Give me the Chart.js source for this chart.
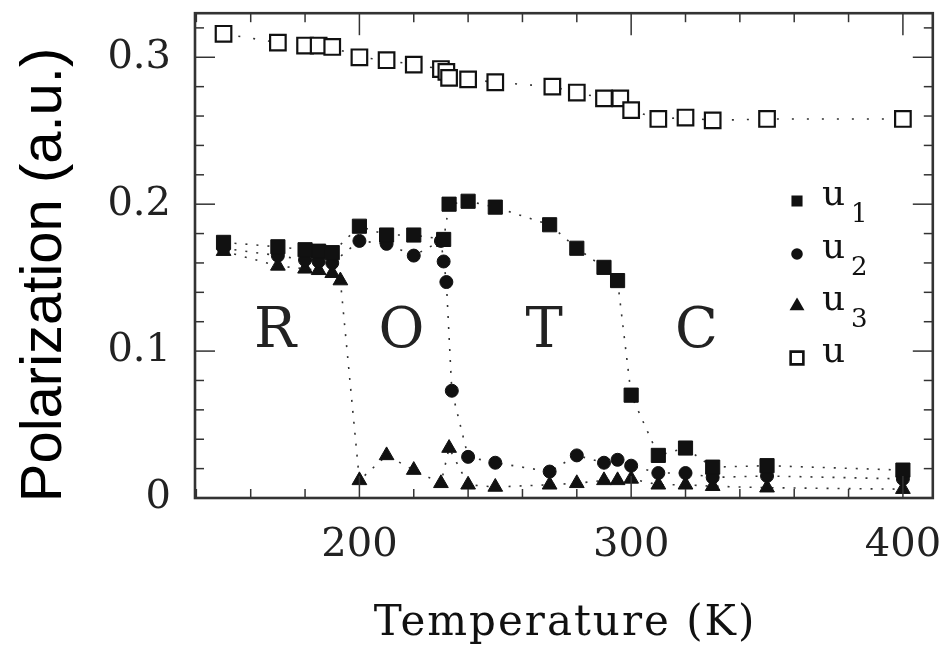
<!DOCTYPE html>
<html>
<head>
<meta charset="utf-8">
<script src="https://cdn.jsdelivr.net/npm/chart.js@4.4.1/dist/chart.umd.min.js"></script>
<style>
  html, body { margin: 0; padding: 0; background: #fff; }
  #wrap { width: 946px; height: 646px; }
</style>
</head>
<body>
<div id="wrap"><canvas id="polar-chart" width="946" height="646"></canvas></div>
<script>
// values: temperature (K) and polarization (a.u.)
var tempU  = [150, 170, 180, 185, 190, 200, 210, 220, 230, 232, 233, 240, 250, 271, 280, 290, 296, 300, 310, 320, 330, 350, 400];
var valU   = [0.316, 0.310, 0.308, 0.308, 0.307, 0.300, 0.298, 0.295, 0.292, 0.290, 0.286, 0.285, 0.283, 0.280, 0.276, 0.272, 0.272, 0.264, 0.258, 0.259, 0.257, 0.258, 0.258];

var tempU1 = [150, 170, 180, 185, 190, 200, 210, 220, 231, 233, 240, 250, 270, 280, 290, 295, 300, 310, 320, 330, 350, 400];
var valU1  = [0.174, 0.171, 0.169, 0.168, 0.167, 0.185, 0.179, 0.179, 0.176, 0.200, 0.202, 0.198, 0.186, 0.170, 0.157, 0.148, 0.070, 0.029, 0.034, 0.021, 0.022, 0.019];

var tempU2 = [150, 170, 180, 185, 190, 200, 210, 220, 230, 231, 232, 234, 240, 250, 270, 280, 290, 295, 300, 310, 320, 330, 350, 400];
var valU2  = [0.170, 0.165, 0.162, 0.161, 0.160, 0.175, 0.173, 0.165, 0.175, 0.161, 0.147, 0.073, 0.028, 0.024, 0.018, 0.029, 0.024, 0.026, 0.022, 0.017, 0.017, 0.014, 0.015, 0.013];

var tempU3 = [150, 170, 180, 185, 190, 193, 200, 210, 220, 230, 233, 240, 250, 270, 280, 290, 295, 300, 310, 320, 330, 350, 400];
var valU3  = [0.168, 0.158, 0.156, 0.155, 0.153, 0.148, 0.012, 0.029, 0.019, 0.010, 0.034, 0.009, 0.0075, 0.009, 0.010, 0.012, 0.012, 0.013, 0.009, 0.009, 0.008, 0.007, 0.006];

var seriesNames = ['u1', 'u2', 'u3', 'u'];
var phaseNames = ['R', 'O', 'T', 'C'];
var xTicks = [200, 300, 400];
var yTicks = [0, 0.1, 0.2, 0.3];

function pts(xs, ys) {
  return xs.map(function(t, i) { return { x: t, y: ys[i] }; });
}

function series(name, xs, ys, style, radius, fillColor, dash) {
  return {
    label: name,
    data: pts(xs, ys),
    showLine: true,
    borderColor: '#333',
    borderWidth: 1.6,
    borderDash: dash,
    fill: false,
    tension: 0,
    pointStyle: style,
    pointRadius: radius,
    pointBorderColor: '#111',
    pointBackgroundColor: fillColor,
    pointBorderWidth: style === 'rect' && fillColor === '#fff' ? 2.2 : 1
  };
}

// keep the plot box where the figure has it (no auto padding for labels)
function noPad(s) {
  s.paddingTop = 0; s.paddingBottom = 0;
  s.paddingLeft = 0; s.paddingRight = 0;
}

// ====================== frame, inward ticks, titles, phase letters, legend ======================
var decor = {
  id: 'decor',
  afterDraw: function(chart) {
    var c = chart.ctx, a = chart.chartArea;
    var xs = chart.scales.x, ys = chart.scales.y;
    c.save();
    c.strokeStyle = '#333';
    c.lineWidth = 1.5;
    function seg(x1, y1, x2, y2) { c.beginPath(); c.moveTo(x1, y1); c.lineTo(x2, y2); c.stroke(); }
    for (var t = 140; t <= 410; t += 20) {
      var px = xs.getPixelForValue(t);
      var len = (t % 100 === 0) ? 22 : 9;
      seg(px, a.bottom, px, a.bottom - len);
      seg(px, a.top, px, a.top + len);
    }
    for (var k = 0; k <= 16; k++) {
      var py = ys.getPixelForValue(k * 0.02);
      var l2 = (k % 5 === 0) ? 20 : 9;
      seg(a.left, py, a.left + l2, py);
      seg(a.right, py, a.right - l2, py);
    }
    c.lineWidth = 2.6;
    c.strokeRect(a.left, a.top, a.right - a.left, a.bottom - a.top);

    // axis titles
    c.fillStyle = '#111';
    c.textAlign = 'center';
    c.textBaseline = 'middle';
    c.font = '42px "DejaVu Serif"';
    if ('letterSpacing' in c) c.letterSpacing = '2px';
    c.fillText('Temperature (K)', 565, 624);
    if ('letterSpacing' in c) c.letterSpacing = '0px';
    c.save();
    c.translate(45, 275);
    c.rotate(-Math.PI / 2);
    c.fillStyle = '#000';
    c.font = '58px "Liberation Sans"';
    c.fillText('Polarization (a.u.)', 0, 0);
    c.restore();

    // phase letters
    var phaseAt = [169, 215.5, 268, 324];
    c.font = '56px "DejaVu Serif"';
    c.fillStyle = '#222';
    phaseNames.forEach(function(p, i) {
      c.fillText(p, xs.getPixelForValue(phaseAt[i]), ys.getPixelForValue(0.1124));
    });

    // legend
    var rows = [205, 258, 310, 362];
    chart.data.datasets.forEach(function(ds, i) {
      var y = rows[i];
      c.fillStyle = ds.pointBackgroundColor;
      c.strokeStyle = '#111';
      Chart.helpers.drawPoint(c, {
        pointStyle: ds.pointStyle,
        radius: ds.label === 'u' ? 9 : (ds.pointStyle === 'circle' ? 4.5 : 6),
        rotation: 0,
        borderWidth: ds.label === 'u' ? 2 : 1
      }, 797, y - 4);
      c.fillStyle = '#111';
      c.textAlign = 'left';
      c.textBaseline = 'alphabetic';
      c.font = '36px "DejaVu Serif"';
      c.fillText(ds.label.charAt(0), 822, y);
      if (ds.label.length > 1) {
        c.font = '26px "DejaVu Serif"';
        c.fillText(ds.label.slice(1), 851, y + 17);
      }
    });
    c.restore();
  }
};

var ctx = document.getElementById('polar-chart');
var polarChart = new Chart(ctx, {
  type: 'line',
  data: {
    datasets: [
      series(seriesNames[0], tempU1, valU1, 'rect', 10, '#111', [2, 9]),
      series(seriesNames[1], tempU2, valU2, 'circle', 6.5, '#111', [2, 9]),
      series(seriesNames[2], tempU3, valU3, 'triangle', 8.5, '#111', [2, 9]),
      series(seriesNames[3], tempU, valU, 'rect', 11, '#fff', [2, 13])
    ]
  },
  options: {
    responsive: false,
    animation: false,
    layout: { padding: { top: 10, right: 12, left: 0, bottom: 0 } },
    plugins: {
      legend: { display: false },
      tooltip: { enabled: false }
    },
    scales: {
      x: {
        type: 'linear',
        min: 139.5,
        max: 411,
        grid: { display: false, drawTicks: false },
        border: { display: false },
        afterBuildTicks: function(s) { s.ticks = xTicks.map(function(v) { return { value: v }; }); },
        afterFit: function(s) { s.height = 148; noPad(s); },
        ticks: {
          padding: 24,
          color: '#222',
          maxRotation: 0,
          autoSkip: false,
          font: { family: 'DejaVu Serif', size: 40 }
        }
      },
      y: {
        min: 0,
        max: 0.33,
        grid: { display: false, drawTicks: false },
        border: { display: false },
        afterBuildTicks: function(s) { s.ticks = yTicks.map(function(v) { return { value: v }; }); },
        afterFit: function(s) { s.width = 195; noPad(s); },
        ticks: {
          padding: 24,
          color: '#222',
          font: { family: 'DejaVu Serif', size: 40 }
        }
      }
    }
  },
  plugins: [decor]
});
</script>
</body>
</html>
